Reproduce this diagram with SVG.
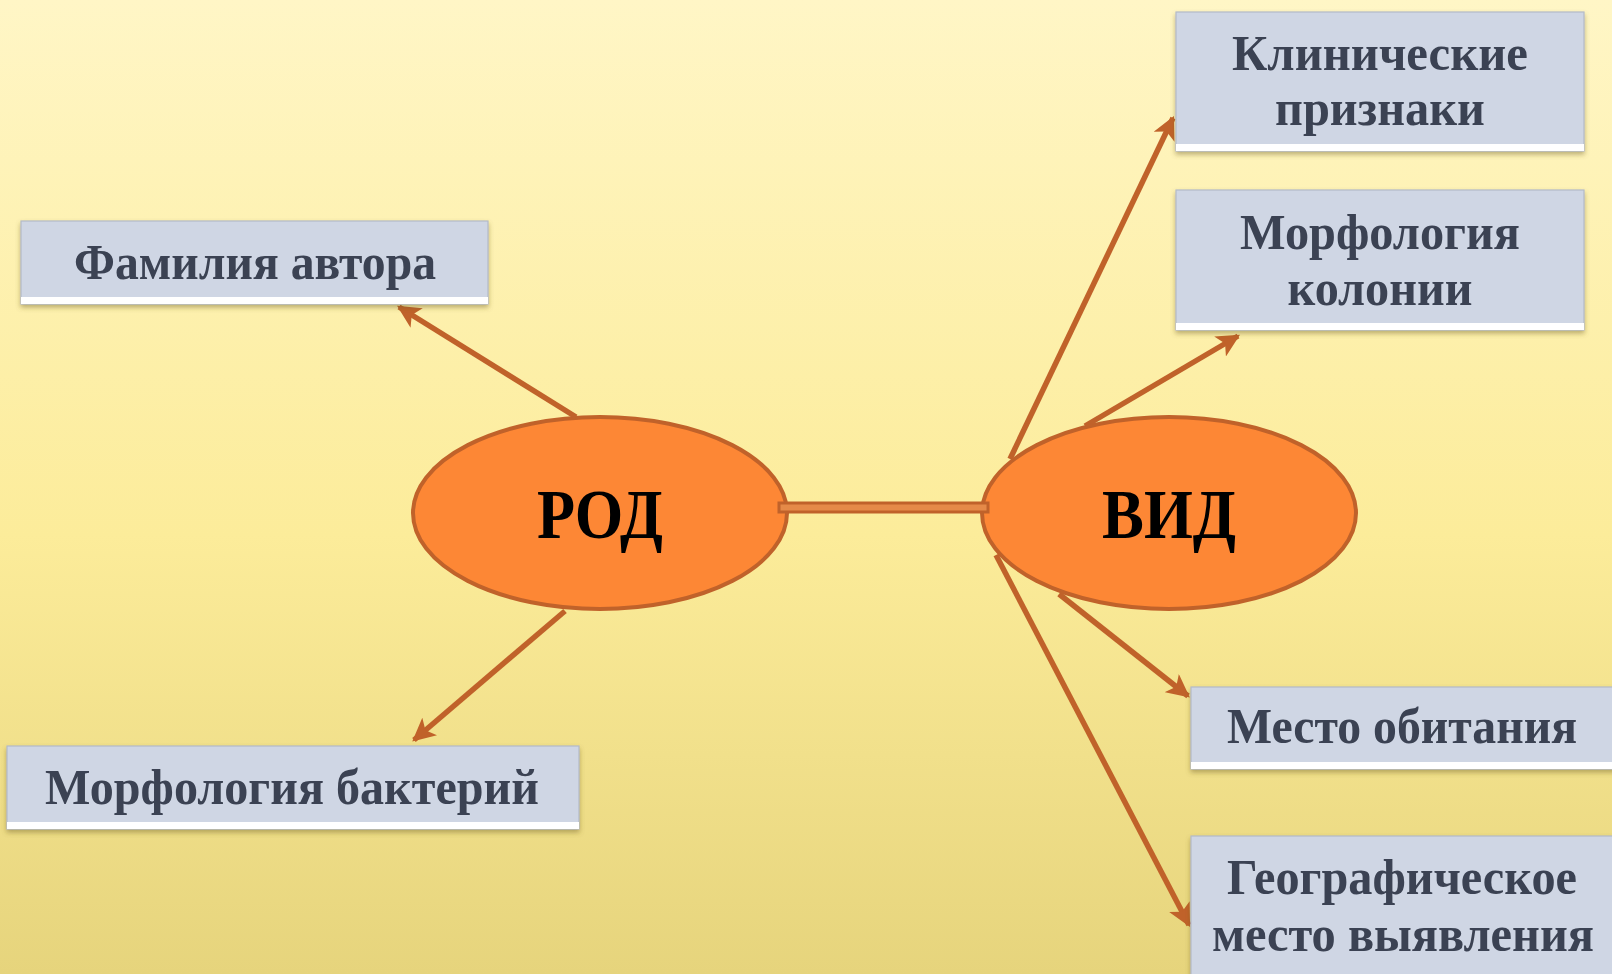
<svg xmlns="http://www.w3.org/2000/svg" width="1612" height="974" viewBox="0 0 1612 974">
  <defs>
    <linearGradient id="bg" x1="0" y1="0" x2="0" y2="1">
      <stop offset="0" stop-color="#fff6c6"/>
      <stop offset="0.55" stop-color="#fcec9a"/>
      <stop offset="1" stop-color="#e6d47c"/>
    </linearGradient>
    <filter id="sh" x="-5%" y="-10%" width="110%" height="130%">
      <feDropShadow dx="0" dy="3" stdDeviation="2.5" flood-color="#6b5a20" flood-opacity="0.45"/>
    </filter>
    <marker id="ah" viewBox="0 0 10 10" refX="9" refY="5" markerWidth="4.2" markerHeight="4.2" orient="auto" markerUnits="strokeWidth">
      <path d="M0,0 L10,5 L0,10 L2.5,5 Z" fill="#c0622a"/>
    </marker>
    <style>
      .box { fill:#cfd6e4; stroke:#b3bac8; stroke-width:1.2; }
      .strip { fill:#ffffff; }
      .lbl { font-family:"Liberation Serif","Times New Roman",serif; font-weight:bold; font-size:50px; fill:#3b4252; text-anchor:middle; }
      .big { font-family:"Liberation Serif","Times New Roman",serif; font-weight:bold; font-size:70px; fill:#000; text-anchor:middle; }
      .ell { fill:#fd8735; stroke:#c0622a; stroke-width:4; }
      .arr { stroke:#c0622a; stroke-width:5.5; fill:none; marker-end:url(#ah); }
    </style>
  </defs>
  <rect x="0" y="0" width="1612" height="974" fill="url(#bg)"/>

  <g id="rod">
    <ellipse class="ell" cx="600" cy="513" rx="187" ry="96"/>
    <text class="big" x="600" y="538" textLength="126" lengthAdjust="spacingAndGlyphs">РОД</text>
  </g>
  <g id="vid">
    <ellipse class="ell" cx="1169" cy="513" rx="187" ry="96"/>
    <text class="big" x="1169" y="538" textLength="134" lengthAdjust="spacingAndGlyphs">ВИД</text>
  </g>

  <g id="connectors">
    <line class="arr" x1="576" y1="417" x2="399" y2="307"/>
    <line class="arr" x1="565" y1="611" x2="414" y2="740"/>
    <line class="arr" x1="1010" y1="459" x2="1173" y2="118"/>
    <line class="arr" x1="1085" y1="426" x2="1238" y2="336"/>
    <line class="arr" x1="1059" y1="594" x2="1188" y2="696"/>
    <line class="arr" x1="996" y1="555" x2="1189" y2="925"/>
    <rect x="779" y="503" width="209" height="9" fill="#e58a48" stroke="#c0622a" stroke-width="3"/>
  </g>

  <g id="familiya" filter="url(#sh)">
    <rect class="box" x="21" y="221" width="467" height="83"/>
    <rect class="strip" x="21" y="297" width="467" height="7"/>
    <text class="lbl" x="255" y="279" textLength="362" lengthAdjust="spacingAndGlyphs">Фамилия автора</text>
  </g>

  <g id="morf-bakt" filter="url(#sh)">
    <rect class="box" x="7" y="746" width="572" height="83"/>
    <rect class="strip" x="7" y="822" width="572" height="7"/>
    <text class="lbl" x="292" y="804" textLength="494" lengthAdjust="spacingAndGlyphs">Морфология бактерий</text>
  </g>

  <g id="klin" filter="url(#sh)">
    <rect class="box" x="1176" y="12" width="408" height="139"/>
    <rect class="strip" x="1176" y="144" width="408" height="7"/>
    <text class="lbl" x="1380" y="70" textLength="296" lengthAdjust="spacingAndGlyphs">Клинические</text>
    <text class="lbl" x="1380" y="125" textLength="210" lengthAdjust="spacingAndGlyphs">признаки</text>
  </g>

  <g id="morf-kol" filter="url(#sh)">
    <rect class="box" x="1176" y="190" width="408" height="140"/>
    <rect class="strip" x="1176" y="323" width="408" height="7"/>
    <text class="lbl" x="1380" y="249" textLength="280" lengthAdjust="spacingAndGlyphs">Морфология</text>
    <text class="lbl" x="1380" y="305" textLength="185" lengthAdjust="spacingAndGlyphs">колонии</text>
  </g>

  <g id="mesto" filter="url(#sh)">
    <rect class="box" x="1191" y="687" width="430" height="82"/>
    <rect class="strip" x="1191" y="762" width="430" height="7"/>
    <text class="lbl" x="1402" y="743" textLength="350" lengthAdjust="spacingAndGlyphs">Место обитания</text>
  </g>

  <g id="geo" filter="url(#sh)">
    <rect class="box" x="1191" y="836" width="430" height="150"/>
    <text class="lbl" x="1402" y="894" textLength="350" lengthAdjust="spacingAndGlyphs">Географическое</text>
    <text class="lbl" x="1403" y="951" textLength="382" lengthAdjust="spacingAndGlyphs">место выявления</text>
  </g>
</svg>
